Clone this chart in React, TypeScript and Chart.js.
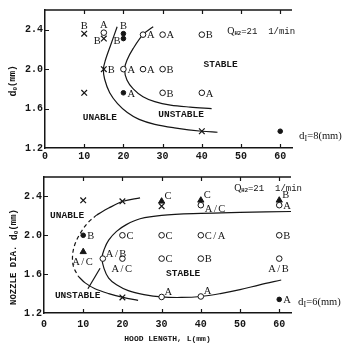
import React, { useEffect, useRef } from "react";
import { Chart, registerables } from "chart.js";
Chart.register(...registerables);

// ---------- shared axes ----------
const X_TICKS = [0, 10, 20, 30, 40, 50, 60];
const Y_TICKS = [1.2, 1.6, 2.0, 2.4];
const X_MIN = 0, X_MAX = 63, Y_MIN = 1.2, Y_MAX = 2.6;

// ---------- upper panel : d_I = 8 mm ----------
const t8OpenX = [15, 25, 30, 40, 20, 25, 30, 30, 40];
const t8OpenY = [2.37, 2.35, 2.35, 2.35, 2.0, 2.0, 2.0, 1.76, 1.76];
const t8OpenLabel = ["A", "A", "A", "B", "A", "A", "B", "B", "A"];
const t8FillX = [20, 20, 20, 60];
const t8FillY = [2.36, 2.31, 1.76, 1.37];
const t8FillLabel = ["B", "B", "A", ""];
const t8CrossX = [10, 15, 15, 10, 40];
const t8CrossY = [2.36, 2.31, 2.0, 1.76, 1.37];
const t8CrossLabel = ["B", "B", "B", "", ""];
const t8UnableX = [18.4, 16.8, 15.4, 14.9, 15.2, 16.5, 18.5, 21, 24, 28, 33, 40, 44];
const t8UnableY = [2.43, 2.25, 2.09, 2.0, 1.9, 1.76, 1.65, 1.56, 1.49, 1.44, 1.405, 1.37, 1.36];
const t8UnstableX = [27.6, 25, 22.5, 20.9, 20.3, 20.9, 22.5, 25, 28, 32, 37, 42.5];
const t8UnstableY = [2.43, 2.35, 2.21, 2.09, 2.0, 1.89, 1.8, 1.72, 1.67, 1.635, 1.615, 1.6];
const t8RegionText = ["UNABLE", "UNSTABLE", "STABLE"];
const t8RegionX = [14, 34.7, 44.8];
const t8RegionY = [1.51, 1.54, 2.05];

// ---------- lower panel : d_I = 6 mm ----------
const b6OpenX = [40, 60, 20, 30, 40, 60, 15, 20, 30, 40, 60, 30, 40];
const b6OpenY = [2.31, 2.31, 2.0, 2.0, 2.0, 2.0, 1.76, 1.76, 1.76, 1.76, 1.76, 1.365, 1.37];
const b6OpenLabel = ["A/C", "A", "C", "C", "C/A", "B", "A/B", "A/C", "C", "B", "A/B", "A", "A"];
const b6FillX = [10, 60];
const b6FillY = [2.0, 1.34];
const b6FillLabel = ["B", "A"];
const b6TriX = [10, 30, 40, 60];
const b6TriY = [1.83, 2.35, 2.36, 2.36];
const b6TriLabel = ["A/C", "C", "C", "B"];
const b6CrossX = [10, 20, 30, 20];
const b6CrossY = [2.36, 2.35, 2.3, 1.36];
const b6StableX = [63, 50, 40, 30, 24.5, 21, 18.5, 16.5, 15.4, 14.8, 15.3, 16.5, 18.5, 21.5, 25.5, 30, 35, 40, 45, 50, 55, 60.5];
const b6StableY = [2.245, 2.235, 2.225, 2.205, 2.17, 2.11, 2.04, 1.95, 1.86, 1.77, 1.66, 1.56, 1.49, 1.43, 1.39, 1.365, 1.36, 1.37, 1.4, 1.44, 1.49, 1.54];
const b6UnableTopX = [24.5, 20.2, 16.5, 13.5];
const b6UnableTopY = [2.385, 2.35, 2.28, 2.21];
const b6UnableDashX = [13.5, 11.2, 9.4, 8.0, 7.3, 7.5, 8.7];
const b6UnableDashY = [2.21, 2.13, 2.03, 1.92, 1.8, 1.68, 1.58];
const b6UnableBotX = [8.7, 10.5, 13, 16.5, 20.2, 24];
const b6UnableBotY = [1.58, 1.51, 1.45, 1.4, 1.36, 1.33];
const b6PointerX = [11.2, 14.3];
const b6PointerY = [1.45, 1.66];
const b6RegionText = ["UNABLE", "UNSTABLE", "STABLE"];
const b6RegionX = [5.9, 8.6, 35.5];
const b6RegionY = [2.2, 1.375, 1.61];

// label placement codes (layout only)
const t8OpenPlace = ["a", "r", "r", "r", "r", "r", "r", "r", "r"];
const t8FillPlace = ["a", "l", "r", ""];
const t8CrossPlace = ["a", "l", "r", "", ""];
const b6OpenPlace = ["rl", "r", "r", "r", "r", "r", "ur", "b", "r", "r", "b", "ur", "ur"];
const b6FillPlace = ["r", "r"];
const b6TriPlace = ["b", "ur", "ur", "ur"];

const INK = "#151515";
const MONO = "'Liberation Mono', 'DejaVu Sans Mono', monospace";
const SERIF = "'Liberation Serif', 'DejaVu Serif', serif";

const pts = (xs: number[], ys: number[]) => xs.map((x, i) => ({ x, y: ys[i] }));
const lbls = (xs: number[], ys: number[], ls: string[], ps: string[]) =>
  xs.map((x, i) => ({ x, y: ys[i], t: ls[i], p: ps[i] })).filter((l) => l.t);

const marker = (xs: number[], ys: number[], style: string, r: number, fill: string, bw: number) => ({
  data: pts(xs, ys),
  showLine: false,
  pointStyle: style,
  pointRadius: r,
  pointHoverRadius: r,
  pointBorderWidth: bw,
  pointBackgroundColor: fill,
  pointBorderColor: INK,
});
const curve = (xs: number[], ys: number[], dash: number[] = [], tension = 0.35) => ({
  data: pts(xs, ys),
  showLine: true,
  pointRadius: 0,
  pointHoverRadius: 0,
  borderColor: INK,
  borderWidth: 1.2,
  borderDash: dash,
  tension,
  fill: false,
});

type Seg = { t: string; f: string; dy?: number };

interface Panel {
  height: number;
  padTop: number;
  axisH: number;
  axisW: number;
  padRight: number;
  tickPad: number;
  datasets: any[];
  labels: { x: number; y: number; t: string; p: string }[];
  regions: { t: string; x: number; y: number }[];
  q: { x: number; y: number };
  di: { x: number; y: number; v: string };
  yTitle: { x: number; y: number; lead: string };
  xTitle?: string;
}

const TOP: Panel = {
  height: 165,
  padTop: 10,
  axisH: 17,
  axisW: 45,
  padRight: 56,
  tickPad: 2,
  datasets: [
    marker(t8OpenX, t8OpenY, "circle", 2.8, "#fff", 1),
    marker(t8FillX, t8FillY, "circle", 2.3, INK, 1),
    marker(t8CrossX, t8CrossY, "crossRot", 4, INK, 1.2),
    curve(t8UnableX, t8UnableY),
    curve(t8UnstableX, t8UnstableY),
  ],
  labels: [
    ...lbls(t8OpenX, t8OpenY, t8OpenLabel, t8OpenPlace),
    ...lbls(t8FillX, t8FillY, t8FillLabel, t8FillPlace),
    ...lbls(t8CrossX, t8CrossY, t8CrossLabel, t8CrossPlace),
  ],
  regions: t8RegionText.map((t, i) => ({ t, x: t8RegionX[i], y: t8RegionY[i] })),
  q: { x: 46.5, y: 2.38 },
  di: { x: 64.8, y: 1.32, v: "8" },
  yTitle: { x: 13, y: 81, lead: "" },
};

const BOTTOM: Panel = {
  height: 181,
  padTop: 12,
  axisH: 33,
  axisW: 44,
  padRight: 57,
  tickPad: 5,
  datasets: [
    marker(b6OpenX, b6OpenY, "circle", 2.8, "#fff", 1),
    marker(b6FillX, b6FillY, "circle", 2.3, INK, 1),
    marker(b6TriX, b6TriY, "triangle", 3.6, INK, 1),
    marker(b6CrossX, b6CrossY, "crossRot", 4, INK, 1.2),
    curve(b6StableX, b6StableY),
    curve(b6UnableTopX, b6UnableTopY),
    curve(b6UnableDashX, b6UnableDashY, [4, 3]),
    curve(b6UnableBotX, b6UnableBotY),
    curve(b6PointerX, b6PointerY, [], 0),
  ],
  labels: [
    ...lbls(b6OpenX, b6OpenY, b6OpenLabel, b6OpenPlace),
    ...lbls(b6FillX, b6FillY, b6FillLabel, b6FillPlace),
    ...lbls(b6TriX, b6TriY, b6TriLabel, b6TriPlace),
  ],
  regions: b6RegionText.map((t, i) => ({ t, x: b6RegionX[i], y: b6RegionY[i] })),
  q: { x: 48.5, y: 2.48 },
  di: { x: 64.8, y: 1.31, v: "6" },
  yTitle: { x: 14, y: 92, lead: "NOZZLE DIA. " },
  xTitle: "HOOD LENGTH, L(mm)",
};

function drawRich(ctx: CanvasRenderingContext2D, segs: Seg[], x: number, y: number, center = false) {
  let w = 0;
  for (const s of segs) {
    ctx.font = s.f;
    w += ctx.measureText(s.t).width;
  }
  let cx = center ? x - w / 2 : x;
  ctx.textAlign = "left";
  for (const s of segs) {
    ctx.font = s.f;
    ctx.fillText(s.t, cx, y + (s.dy || 0));
    cx += ctx.measureText(s.t).width;
  }
}

function setSpacing(ctx: any, v: string) {
  try {
    ctx.letterSpacing = v;
  } catch (e) {}
}

function annotPlugin(P: Panel) {
  return {
    id: "annot",
    afterDatasetsDraw(chart: any) {
      const { ctx, chartArea: a, scales } = chart;
      const px = (v: number) => scales.x.getPixelForValue(v);
      const py = (v: number) => scales.y.getPixelForValue(v);
      ctx.save();
      ctx.strokeStyle = INK;
      ctx.fillStyle = INK;
      // top frame line
      ctx.lineWidth = 1.5;
      ctx.beginPath();
      ctx.moveTo(a.left, a.top);
      ctx.lineTo(a.right, a.top);
      ctx.stroke();
      // inward tick marks
      ctx.lineWidth = 1.2;
      ctx.beginPath();
      for (const v of X_TICKS) {
        if (v <= X_MIN) continue;
        const x = Math.round(px(v)) + 0.5;
        ctx.moveTo(x, a.bottom);
        ctx.lineTo(x, a.bottom - 4);
        ctx.moveTo(x, a.top);
        ctx.lineTo(x, a.top + 4);
      }
      for (const v of Y_TICKS) {
        if (v <= Y_MIN) continue;
        const y = Math.round(py(v)) + 0.5;
        ctx.moveTo(a.left, y);
        ctx.lineTo(a.left + 4, y);
      }
      ctx.stroke();

      // point labels
      for (const l of P.labels) {
        const x = px(l.x), y = py(l.y);
        ctx.font = `10.5px ${SERIF}`;
        setSpacing(ctx, l.t.includes("/") ? "1.5px" : "0px");
        switch (l.p) {
          case "r":
            ctx.textAlign = "left"; ctx.textBaseline = "middle";
            ctx.fillText(l.t, x + 4, y + 1);
            break;
          case "rl":
            ctx.textAlign = "left"; ctx.textBaseline = "middle";
            ctx.fillText(l.t, x + 4, y + 4);
            break;
          case "a":
            ctx.textAlign = "center"; ctx.textBaseline = "alphabetic";
            ctx.fillText(l.t, x, y - 5);
            break;
          case "l":
            ctx.textAlign = "right"; ctx.textBaseline = "middle";
            ctx.fillText(l.t, x - 3, y + 3);
            break;
          case "ur":
            ctx.textAlign = "left"; ctx.textBaseline = "alphabetic";
            ctx.fillText(l.t, x + 3, y - 2);
            break;
          case "b":
            ctx.textAlign = "center"; ctx.textBaseline = "top";
            ctx.fillText(l.t, x, y + 5);
            break;
        }
      }
      setSpacing(ctx, "0px");

      // region names
      ctx.font = `bold 9.5px ${MONO}`;
      ctx.textAlign = "center";
      ctx.textBaseline = "middle";
      for (const r of P.regions) ctx.fillText(r.t, px(r.x), py(r.y));

      // Q_H2 = 21 l/min
      ctx.textBaseline = "middle";
      drawRich(ctx, [
        { t: "Q", f: `10px ${SERIF}` },
        { t: "H2", f: `bold 5.5px ${MONO}`, dy: 2 },
        { t: "=21  1/min", f: `9px ${MONO}` },
      ], px(P.q.x), py(P.q.y));

      // d_I = n (mm)
      drawRich(ctx, [
        { t: "d", f: `11px ${SERIF}` },
        { t: "I", f: `8px ${SERIF}`, dy: 3 },
        { t: `=${P.di.v}(mm)`, f: `10.5px ${SERIF}` },
      ], px(P.di.x), py(P.di.y));

      // y title (rotated)
      ctx.translate(P.yTitle.x, P.yTitle.y);
      ctx.rotate(-Math.PI / 2);
      const segs: Seg[] = [];
      if (P.yTitle.lead) segs.push({ t: P.yTitle.lead, f: `bold 9px ${MONO}` });
      segs.push({ t: "d", f: `bold 10px ${MONO}` });
      segs.push({ t: "0", f: `bold 6px ${MONO}`, dy: 2 });
      segs.push({ t: "(mm)", f: `bold 9px ${MONO}` });
      drawRich(ctx, segs, 0, 0, true);
      ctx.restore();
    },
  };
}

function makeChart(canvas: HTMLCanvasElement, P: Panel) {
  const tickFont = { family: MONO, size: 10, weight: "bold" as const };
  return new Chart(canvas, {
    type: "scatter",
    data: { datasets: P.datasets },
    options: {
      responsive: false,
      animation: false,
      events: [],
      layout: { padding: { top: P.padTop, right: P.padRight, left: 0, bottom: 0 } },
      plugins: { legend: { display: false }, tooltip: { enabled: false } },
      scales: {
        x: {
          type: "linear",
          min: X_MIN,
          max: X_MAX,
          afterBuildTicks: (s: any) => {
            s.ticks = X_TICKS.map((v) => ({ value: v }));
          },
          afterFit: (s: any) => {
            s.height = P.axisH;
          },
          grid: { display: true, drawOnChartArea: false, drawTicks: false },
          border: { display: true, color: INK, width: 1.5 },
          ticks: {
            color: INK,
            font: tickFont,
            padding: P.tickPad,
            maxRotation: 0,
            autoSkip: false,
            callback: (v: any) => String(v),
          },
          title: P.xTitle
            ? {
                display: true,
                text: P.xTitle,
                color: INK,
                font: { family: MONO, size: 8, weight: "bold" as const },
                padding: { top: 0, bottom: 2 },
              }
            : { display: false },
        },
        y: {
          type: "linear",
          min: Y_MIN,
          max: Y_MAX,
          afterBuildTicks: (s: any) => {
            s.ticks = Y_TICKS.map((v) => ({ value: v }));
          },
          afterFit: (s: any) => {
            s.width = P.axisW;
          },
          grid: { display: true, drawOnChartArea: false, drawTicks: false },
          border: { display: true, color: INK, width: 1.5 },
          ticks: {
            color: INK,
            font: tickFont,
            padding: 2,
            autoSkip: false,
            callback: (v: any) => Number(v).toFixed(1),
          },
        },
      },
    } as any,
    plugins: [annotPlugin(P)],
  });
}

export default function App() {
  const r1 = useRef<HTMLCanvasElement>(null);
  const r2 = useRef<HTMLCanvasElement>(null);
  useEffect(() => {
    const c1 = makeChart(r1.current!, TOP);
    const c2 = makeChart(r2.current!, BOTTOM);
    return () => {
      c1.destroy();
      c2.destroy();
    };
  }, []);
  return (
    <div style={{ position: "absolute", left: 0, top: 0, width: 348, height: 346, background: "#fff" }}>
      <canvas ref={r1} width={348} height={TOP.height} style={{ position: "absolute", left: 0, top: 0 }} />
      <canvas
        ref={r2}
        width={348}
        height={BOTTOM.height}
        style={{ position: "absolute", left: 0, top: TOP.height }}
      />
    </div>
  );
}
